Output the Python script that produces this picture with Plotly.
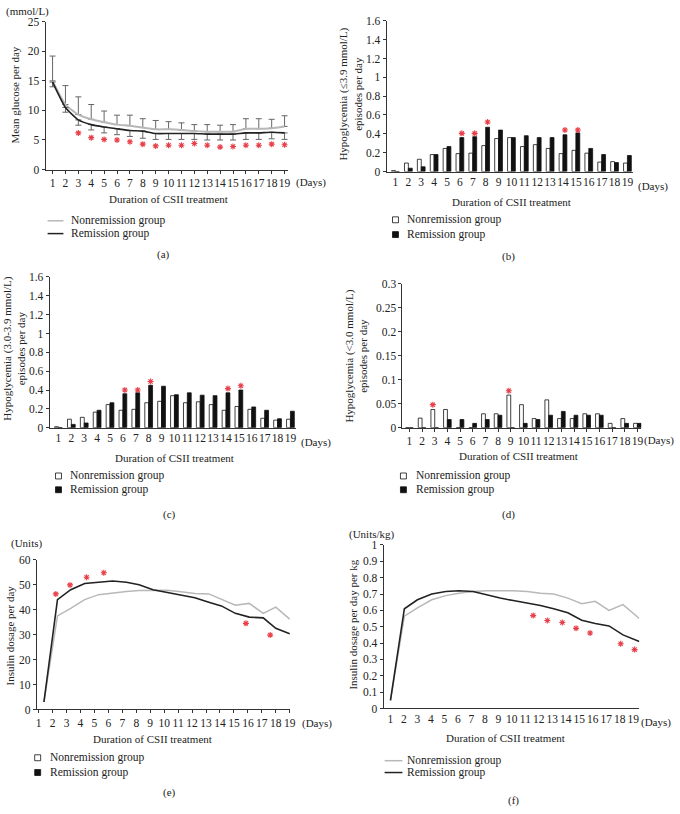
import plotly.graph_objects as go

W, H = 680, 814
FONT = "Liberation Serif"
RED = "#e8404a"
GRAY = "#b8b8b8"
BLACK = "#222222"
FS = 11
TFS = 11.5

days = list(range(1, 20))
day_labels = [str(d) for d in days]

# (a) mean glucose
a_nonrem = [15.0, 11.0, 9.3, 8.5, 8.0, 7.6, 7.4, 7.1, 6.8, 6.8, 6.7, 6.5, 6.4, 6.4, 6.4, 6.9, 6.9, 7.0, 7.3]
a_rem = [14.8, 10.5, 8.4, 7.6, 7.2, 6.9, 6.6, 6.5, 6.1, 6.1, 6.1, 6.1, 6.0, 6.0, 6.0, 6.2, 6.2, 6.3, 6.2]
a_nonrem_upper = [19.2, 14.2, 12.3, 11.0, 9.9, 9.2, 9.2, 8.6, 8.3, 8.1, 7.9, 7.6, 7.6, 7.5, 7.6, 8.6, 8.6, 8.5, 9.1]
a_rem_lower = [14.0, 9.7, 7.5, 6.7, 6.2, 5.9, 5.6, 5.3, 5.1, 5.1, 5.1, 5.1, 5.0, 5.0, 5.0, 5.1, 5.1, 5.2, 5.1]
a_star_days = list(range(3, 20))
a_star_y = [6.2, 5.4, 5.1, 5.0, 4.7, 4.3, 4.0, 4.1, 4.1, 4.4, 4.1, 3.8, 3.9, 4.1, 4.1, 4.3, 4.2]

# (b) hypoglycemia <=3.9
b_nonrem = [0.01, 0.09, 0.13, 0.18, 0.245, 0.19, 0.195, 0.275, 0.35, 0.36, 0.265, 0.285, 0.245, 0.19, 0.225, 0.195, 0.10, 0.105, 0.09]
b_rem = [0.0, 0.035, 0.05, 0.18, 0.265, 0.36, 0.37, 0.47, 0.44, 0.36, 0.38, 0.36, 0.36, 0.39, 0.41, 0.245, 0.18, 0.095, 0.17]
b_star_days = [6, 7, 8, 14, 15]
b_star_y = [0.405, 0.405, 0.525, 0.44, 0.44]

# (c) hypoglycemia 3.0-3.9
c_nonrem = [0.01, 0.09, 0.11, 0.165, 0.245, 0.185, 0.195, 0.265, 0.28, 0.34, 0.265, 0.275, 0.245, 0.185, 0.225, 0.195, 0.10, 0.08, 0.09]
c_rem = [0.0, 0.035, 0.05, 0.185, 0.265, 0.36, 0.37, 0.45, 0.44, 0.35, 0.37, 0.345, 0.34, 0.37, 0.40, 0.22, 0.185, 0.095, 0.175]
c_star_days = [6, 7, 8, 14, 15]
c_star_y = [0.40, 0.40, 0.49, 0.415, 0.445]

# (d) hypoglycemia <3.0
d_nonrem = [0.0, 0.02, 0.038, 0.038, 0.0, 0.0, 0.029, 0.029, 0.068, 0.048, 0.019, 0.058, 0.019, 0.019, 0.029, 0.029, 0.009, 0.019, 0.009]
d_rem = [0.0, 0.0, 0.0, 0.017, 0.017, 0.009, 0.017, 0.026, 0.0, 0.009, 0.017, 0.026, 0.034, 0.026, 0.026, 0.026, 0.0, 0.009, 0.009]
d_star_days = [3, 9]
d_star_y = [0.048, 0.077]

# (e) insulin dosage per day (units)
e_xpos = [1.38, 2.35, 3.3, 4.3, 5.3, 6.3, 7.3, 8.2, 9.2, 10.2, 11.2, 12.2, 13.2, 14.1, 15.1, 16.1, 17.1, 18.0, 19.0]
e_nonrem = [3.0, 37.5, 40.5, 44.0, 46.0, 46.8, 47.3, 47.7, 47.8, 47.8, 47.2, 46.5, 46.3, 44.3, 41.8, 42.5, 38.5, 41.0, 36.2]
e_rem = [3.0, 44.0, 48.0, 50.5, 51.0, 51.5, 51.0, 50.0, 48.0, 47.0, 46.0, 44.8, 43.0, 41.5, 38.5, 37.0, 36.7, 32.5, 30.3]
e_star_x = [2.23, 3.25, 4.44, 5.67, 15.86, 17.6]
e_star_y = [46.3, 49.9, 53.0, 54.8, 34.5, 29.8]

# (f) insulin dosage per day per kg
f_xpos = [1.0, 2.03, 3.0, 4.06, 5.1, 6.07, 7.12, 8.1, 9.13, 10.1, 11.14, 12.12, 13.1, 14.15, 15.18, 16.18, 17.2, 18.24, 19.45]
f_nonrem = [0.05, 0.565, 0.615, 0.665, 0.69, 0.705, 0.715, 0.72, 0.72, 0.72, 0.715, 0.705, 0.70, 0.675, 0.64, 0.655, 0.60, 0.635, 0.55]
f_rem = [0.05, 0.61, 0.665, 0.70, 0.715, 0.72, 0.715, 0.695, 0.675, 0.66, 0.645, 0.63, 0.61, 0.585, 0.54, 0.52, 0.505, 0.45, 0.41]
f_star_x = [11.58, 12.63, 13.74, 14.76, 15.8, 18.07, 19.1]
f_star_y = [0.568, 0.538, 0.526, 0.49, 0.462, 0.396, 0.36]

NR_LABEL = "Nonremission group"
R_LABEL = "Remission group"
XTITLE = "Duration of CSII treatment"


def px(x):
    return x / W


def py(y):
    return 1 - y / H


fig = go.Figure()

panels = {
    "a": dict(x=(45, 290), y=(16, 166), xr=[0.46, 19.3], yr=[0, 25], dt=5, xt=True),
    "b": dict(x=(389, 638), y=(15, 168), xr=[0.31, 19.46], yr=[0, 1.6], dt=0.2, xt=False),
    "c": dict(x=(49, 298), y=(275, 428), xr=[0.31, 19.46], yr=[0, 1.6], dt=0.2, xt=False),
    "d": dict(x=(405, 646), y=(282, 428), xr=[0.45, 19.31], yr=[0, 0.3], dt=0.05, xt=True),
    "e": dict(x=(36, 292), y=(562, 714), xr=[0.86, 19.05], yr=[0, 60], dt=10, xt=True),
    "f": dict(x=(386, 644), y=(547, 713), xr=[0.49, 19.45], yr=[0, 1], dt=0.1, xt=False),
}
order = ["a", "b", "c", "d", "e", "f"]
axref = {}
layout_axes = {}
for i, k in enumerate(order):
    n = "" if i == 0 else str(i + 1)
    axref[k] = ("x" + n, "y" + n)
    p = panels[k]
    layout_axes["xaxis" + n] = dict(
        domain=[px(p["x"][0]), px(p["x"][1])], range=p["xr"], anchor="y" + n,
        tickmode="array", tickvals=days, ticktext=day_labels, tickangle=0,
        showline=True, linecolor="#333", linewidth=1,
        ticks="outside" if p["xt"] else "", ticklen=3, tickcolor="#333",
        showgrid=False, zeroline=False,
        tickfont=dict(family=FONT, size=TFS, color="#222"),
    )
    layout_axes["yaxis" + n] = dict(
        domain=[py(p["y"][1]), py(p["y"][0])], range=p["yr"], anchor="x" + n,
        dtick=p["dt"], tick0=0, showline=True, linecolor="#333", linewidth=1,
        ticks="outside", ticklen=3, tickcolor="#333",
        showgrid=False, zeroline=False,
        tickfont=dict(family=FONT, size=TFS, color="#222"),
    )


def stars(k, xs, ys):
    xa, ya = axref[k]
    fig.add_trace(go.Scatter(
        x=xs, y=ys, mode="markers", xaxis=xa, yaxis=ya, showlegend=False,
        marker=dict(symbol="asterisk-open", size=5, color=RED,
                    line=dict(color=RED, width=1.1)),
        hoverinfo="skip"))


# (a)
xa, ya = axref["a"]
fig.add_trace(go.Scatter(
    x=days, y=a_nonrem, mode="lines", xaxis=xa, yaxis=ya, showlegend=False,
    line=dict(color=GRAY, width=2, shape="spline", smoothing=0.5),
    error_y=dict(type="data", symmetric=False,
                 array=[u - m for u, m in zip(a_nonrem_upper, a_nonrem)],
                 arrayminus=[0] * len(days), color="#666", thickness=1, width=3)))
fig.add_trace(go.Scatter(
    x=days, y=a_rem, mode="lines", xaxis=xa, yaxis=ya, showlegend=False,
    line=dict(color=BLACK, width=1.6, shape="spline", smoothing=0.5),
    error_y=dict(type="data", symmetric=False, array=[0] * len(days),
                 arrayminus=[m - l for m, l in zip(a_rem, a_rem_lower)],
                 color="#666", thickness=1, width=3)))
stars("a", a_star_days, a_star_y)


def bars(k, nr, r):
    xa, ya = axref[k]
    fig.add_trace(go.Bar(x=days, y=nr, xaxis=xa, yaxis=ya, showlegend=False,
                         marker=dict(color="white", line=dict(color="#111", width=0.8)),
                         offsetgroup="nr"))
    fig.add_trace(go.Bar(x=days, y=r, xaxis=xa, yaxis=ya, showlegend=False,
                         marker=dict(color="#111", line=dict(color="#111", width=0.8)),
                         offsetgroup="r"))


bars("b", b_nonrem, b_rem)
stars("b", [d + 0.15 for d in b_star_days], b_star_y)
bars("c", c_nonrem, c_rem)
stars("c", [d + 0.15 for d in c_star_days], c_star_y)
bars("d", d_nonrem, d_rem)
stars("d", [d - 0.15 for d in d_star_days], d_star_y)

# (e)
xa, ya = axref["e"]
fig.add_trace(go.Scatter(x=e_xpos, y=e_nonrem, mode="lines", xaxis=xa, yaxis=ya,
                         showlegend=False, line=dict(color=GRAY, width=1.5)))
fig.add_trace(go.Scatter(x=e_xpos, y=e_rem, mode="lines", xaxis=xa, yaxis=ya,
                         showlegend=False, line=dict(color=BLACK, width=1.6)))
stars("e", e_star_x, e_star_y)

# (f)
xa, ya = axref["f"]
fig.add_trace(go.Scatter(x=f_xpos, y=f_nonrem, mode="lines", xaxis=xa, yaxis=ya,
                         showlegend=False, line=dict(color=GRAY, width=1.5)))
fig.add_trace(go.Scatter(x=f_xpos, y=f_rem, mode="lines", xaxis=xa, yaxis=ya,
                         showlegend=False, line=dict(color=BLACK, width=1.6)))
stars("f", f_star_x, f_star_y)

annotations = []
shapes = []


def ann(text, x, y, xanchor="center", yanchor="middle", size=FS, angle=0):
    annotations.append(dict(text=text, x=px(x), y=py(y), xref="paper", yref="paper",
                            xanchor=xanchor, yanchor=yanchor, showarrow=False,
                            textangle=angle, font=dict(family=FONT, size=size, color="#222")))


# unit labels
ann("(mmol/L)", 3, 6, xanchor="left")
ann("(Units)", 8, 546, xanchor="left")
ann("(Units/kg)", 349, 536, xanchor="left")

# (Days)
for x, y in [(313, 179), (658, 183), (318, 443), (664, 441), (319, 728), (661, 727)]:
    ann("(Days)", x, y)

# x titles
for x, y in [(169, 196), (515, 199), (175, 459), (522, 457), (153, 744), (509, 743)]:
    ann(XTITLE, x, y)

# y titles
ann("Mean glucose per day", 14, 90, angle=-90)
ann("Hypoglycemia (≤3.9 mmol/L)<br>episodes per day", 352, 89, angle=-90)
ann("Hypoglycemia (3.0-3.9 mmol/L)<br>episodes per day", 13, 347, angle=-90)
ann("Hypoglycemia (&lt;3.0 mmol/L)<br>episodes per day", 358, 355, angle=-90)
ann("Insulin dosage per day", 9, 639, angle=-90)
ann("Insulin dosage per day per kg", 355, 628, angle=-90)

# panel labels
for t, x, y in [("(a)", 164, 252), ("(b)", 512, 254), ("(c)", 170, 516),
                ("(d)", 512, 516), ("(e)", 170, 798), ("(f)", 517, 806)]:
    ann(t, x, y)


def line_legend(x0, x1, tx, y1, y2):
    for y, c in [(y1, GRAY), (y2, BLACK)]:
        shapes.append(dict(type="line", xref="paper", yref="paper", x0=px(x0), x1=px(x1),
                           y0=py(y), y1=py(y), line=dict(color=c, width=1.5)))
    ann(NR_LABEL, tx, y1, xanchor="left", size=11.5)
    ann(R_LABEL, tx, y2, xanchor="left", size=11.5)


def box_legend(bx, tx, y1, y2):
    for y, fill in [(y1, "white"), (y2, "#111")]:
        shapes.append(dict(type="rect", xref="paper", yref="paper", x0=px(bx), x1=px(bx + 6),
                           y0=py(y + 3), y1=py(y - 3), fillcolor=fill,
                           line=dict(color="#111", width=0.8)))
    ann(NR_LABEL, tx, y1, xanchor="left", size=11.5)
    ann(R_LABEL, tx, y2, xanchor="left", size=11.5)


line_legend(47, 63, 69, 218, 231)
box_legend(395, 408, 217, 232)
box_legend(55, 68, 477, 491)
box_legend(403, 417, 477, 491)
box_legend(34, 47, 763, 778)
line_legend(387, 405, 408, 766, 778)

fig.update_layout(
    width=W, height=H, margin=dict(l=0, r=0, t=0, b=0),
    paper_bgcolor="white", plot_bgcolor="white",
    barmode="group", bargap=0.4, bargroupgap=0,
    annotations=annotations, shapes=shapes, showlegend=False,
    font=dict(family=FONT, size=FS, color="#222"),
    **layout_axes,
)

fig.write_html("out.html", config={"displayModeBar": False},
               post_script="document.body.style.margin='0';document.body.style.overflow='hidden';")
